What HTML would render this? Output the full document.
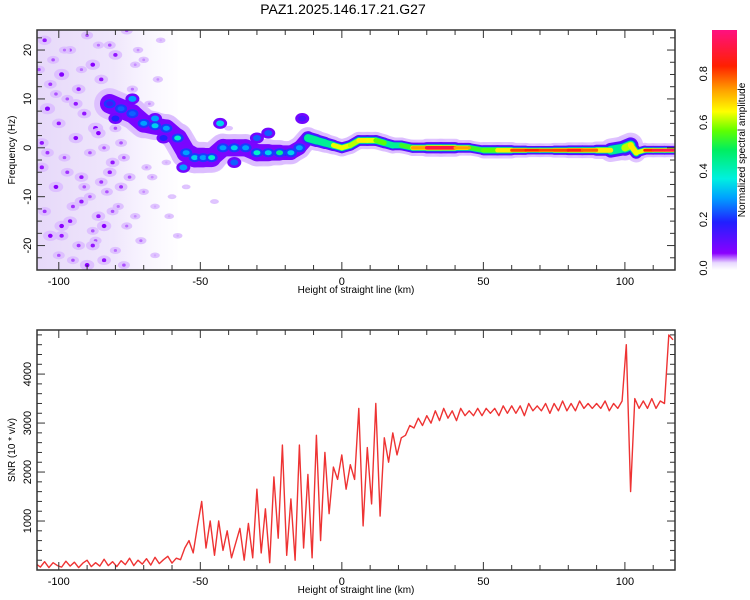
<!DOCTYPE html>
<html><head><meta charset="utf-8"><style>
body{margin:0;background:#fff;}
svg{display:block;font-family:"Liberation Sans",sans-serif;}
</style></head><body>
<svg id="chart" width="750" height="600" viewBox="0 0 750 600">
<defs>
<linearGradient id="cbar" x1="0" y1="1" x2="0" y2="0">
<stop offset="0" stop-color="#ffffff"/>
<stop offset="0.03" stop-color="#e8d8ff"/>
<stop offset="0.07" stop-color="#8a00ff"/>
<stop offset="0.2" stop-color="#2020ff"/>
<stop offset="0.3" stop-color="#00a0ff"/>
<stop offset="0.38" stop-color="#00f0e0"/>
<stop offset="0.5" stop-color="#00ee60"/>
<stop offset="0.58" stop-color="#60ff00"/>
<stop offset="0.66" stop-color="#ffff00"/>
<stop offset="0.75" stop-color="#ffa000"/>
<stop offset="0.85" stop-color="#ff2000"/>
<stop offset="1" stop-color="#ff1080"/>
</linearGradient>
<clipPath id="clipTop"><rect x="37" y="30" width="638" height="240"/></clipPath>
<clipPath id="clipBot"><rect x="37" y="330" width="638" height="240"/></clipPath>
<linearGradient id="noiseBg" x1="0" x2="1" y1="0" y2="0">
<stop offset="0" stop-color="#d6bff5" stop-opacity="0.6"/>
<stop offset="0.55" stop-color="#dcc8f8" stop-opacity="0.45"/>
<stop offset="1" stop-color="#ece2ff" stop-opacity="0.05"/>
</linearGradient>
</defs>
<text x="343" y="14" font-size="14" text-anchor="middle">PAZ1.2025.146.17.21.G27</text>
<g id="topPanel"></g>
<g id="cb"></g>
<g id="botPanel"></g>
</svg>
<script>
// ---- data ----
const xTicks=[-100,-50,0,50,100];
const fTicks=[-20,-10,0,10,20];
const snrTicks=[1000,2000,3000,4000];
const cbTicks=[0.0,0.2,0.4,0.6,0.8];
// spectral ridge: position (km), centre freq (Hz), peak amplitude, bandwidth (Hz)
const ridgeX=[-82,-78,-74,-70,-66,-62,-58,-55,-52,-49,-46,-42,-38,-34,-30,-26,-22,-18,-15,-12,-9,-6,-3,0,3,6,9,12,15,18,21,25,30,35,40,45,50,55,60,65,70,75,80,85,90,95,100,102,104,107,110,114,118];
const ridgeF=[9,8,7,5,4.5,4,2,-1,-2,-2,-2,0,0,0,-1,-1,-1,-1,0,2,1.5,1,0.5,0,0.5,1.5,1.5,1.5,1,0.5,0.5,0,0,0,0,0,-0.5,-0.5,-0.5,-0.5,-0.5,-0.5,-0.5,-0.5,-0.5,-0.5,0,0.5,-1,-0.5,-0.5,-0.5,-0.5];
const ridgeA=[0.15,0.25,0.25,0.3,0.35,0.3,0.4,0.3,0.35,0.3,0.4,0.3,0.35,0.3,0.4,0.35,0.45,0.35,0.3,0.5,0.5,0.45,0.6,0.7,0.6,0.65,0.7,0.6,0.55,0.5,0.5,0.6,0.9,0.95,0.9,0.6,0.5,0.65,0.8,0.85,0.85,0.8,0.85,0.9,0.7,0.7,0.35,0.9,0.5,0.8,0.9,0.95,0.95];
const ridgeW=[4,4,3.8,3.8,3.5,3.5,3.8,4,4,4,3.8,3.5,3.5,3.5,3.5,3.5,3,3,2.8,2.8,2.5,2.5,2.2,2.2,2.2,2.2,2.2,2.2,2.2,2,2,2,2.2,2.4,2.2,1.8,2,2.2,2,1.8,1.7,1.8,2,2,2,2.5,3.5,3,2,1.8,1.8,1.8,1.8];
// secondary blobs near the ridge
const blobX=[-43,-74,-66,-30,-26,-20,-14,-38,-56,-80,-63];
const blobF=[5,10,6,2,3,-1,6,-3,-4,6,2];
const blobA=[0.35,0.3,0.3,0.25,0.25,0.2,0.15,0.25,0.3,0.2,0.2];
// scattered noise blobs
const noiseX=[-105,-102,-99,-96,-93,-90,-88,-85,-82,-80,-104,-100,-97,-94,-91,-87,-84,-81,-78,-75,-106,-101,-98,-95,-92,-89,-86,-83,-79,-76,-103,-100,-96,-93,-90,-87,-84,-80,-73,-70,-105,-99,-95,-92,-88,-85,-82,-77,-74,-68,-65,-62,-70,-66,-63,-72,-58,-55,-45,-40,
-107,-103,-98,-94,-89,-86,-83,-78,-76,-71,-67,-64,-61,-106,-101,-97,-92,-88,-84,-80,-77,-73,-69,-66,-60,-104,-99,-91,-86,-81];
const noiseF=[22,18,15,20,12,23,17,14,21,19,8,5,10,2,7,4,0,-3,1,-6,-4,-8,-2,-12,-6,-10,-14,-9,-12,-16,-18,-22,-15,-20,-24,-19,-23,-21,-14,-9,-13,-16,-23,-11,-17,-7,-5,-2,12,9,14,-3,18,-12,6,20,-18,-8,-11,4,
16,13,20,9,-1,3,11,-8,24,-19,-6,22,-14,1,11,-5,16,-20,-16,4,-24,17,-4,-22,-10,-1,-18,-8,21,-13];
const noiseA=[0.12,0.1,0.14,0.1,0.12,0.1,0.13,0.12,0.1,0.12,0.14,0.12,0.1,0.13,0.12,0.14,0.1,0.12,0.1,0.1,0.12,0.13,0.1,0.11,0.12,0.1,0.12,0.1,0.09,0.09,0.13,0.1,0.12,0.11,0.13,0.1,0.12,0.09,0.08,0.08,0.11,0.13,0.1,0.12,0.1,0.11,0.12,0.1,0.09,0.08,0.08,0.07,0.08,0.07,0.07,0.08,0.07,0.06,0.06,0.06,
0.1,0.11,0.09,0.12,0.1,0.13,0.09,0.11,0.1,0.09,0.08,0.07,0.07,0.12,0.1,0.11,0.09,0.12,0.13,0.1,0.1,0.08,0.08,0.07,0.06,0.11,0.12,0.1,0.09,0.1];
// SNR series, x from -108 step 1.5
const snrX0=-108, snrStep=1.5;
const snrY=[120,60,170,50,150,90,60,180,80,160,50,140,200,70,150,80,220,90,170,70,190,110,240,90,200,120,230,100,260,130,210,280,140,240,210,
450,600,350,900,1400,450,1000,300,1000,400,800,250,550,850,200,950,250,1650,350,1250,150,1900,650,2550,300,1450,200,2550,450,1950,250,2750,600,2400,1150,2100,1850,2350,1650,2150,1850,3300,900,2500,1350,3400,1100,2700,2200,2800,2350,2700,2750,2950,2900,3100,2950,3150,
3000,3250,3050,3300,3100,3250,3050,3300,3150,3250,3150,3300,3150,3300,3200,3300,3150,3350,3200,3350,3200,3350,3150,3400,3250,3350,3250,3400,3200,3400,3250,3450,3250,3400,3250,3450,3300,3400,3300,3400,3300,3450,3250,3400,3300,3450,
4600,1600,3500,3300,3450,3300,3500,3300,3450,3400,4800,4700];
// ---- scales ----
const L=37,R=675,X0=-107.7,X1=117.7;
const sx=v=>L+(v-X0)/(X1-X0)*(R-L);
const TT=30,TB=270,F0=-25,F1=24.1;
const sf=v=>TB-(v-F0)/(F1-F0)*(TB-TT);
const hz=(TB-TT)/(F1-F0);
const BT=330,BB=570,S0=0,S1=4900;
const ss=v=>BB-(v-S0)/(S1-S0)*(BB-BT);
const NS="http://www.w3.org/2000/svg";
function mk(tag,attrs,parent){const e=document.createElementNS(NS,tag);for(const k in attrs)e.setAttribute(k,attrs[k]);parent.appendChild(e);return e;}
const stops=[[0,[255,255,255]],[0.03,[232,216,255]],[0.07,[138,0,255]],[0.2,[32,32,255]],[0.3,[0,160,255]],[0.38,[0,240,224]],[0.5,[0,238,96]],[0.58,[96,255,0]],[0.66,[255,255,0]],[0.75,[255,160,0]],[0.85,[255,32,0]],[1,[255,16,128]]];
function cmap(a){a=Math.max(0,Math.min(1,a));for(let i=1;i<stops.length;i++){if(a<=stops[i][0]){const [p0,c0]=stops[i-1],[p1,c1]=stops[i];const t=(a-p0)/(p1-p0);return 'rgb('+c0.map((c,j)=>Math.round(c+(c1[j]-c)*t)).join(',')+')';}}return 'rgb(255,16,128)';}

// ---- top panel ----
const topG=document.getElementById('topPanel');
const tg=mk('g',{'clip-path':'url(#clipTop)'},topG);
let bg=mk('rect',{x:sx(-108),y:TT,width:sx(-58)-sx(-108),height:TB-TT,fill:'url(#noiseBg)'},tg);


noiseX.forEach((x,i)=>{
  const a=noiseA[i];
  const r=a*40;
  let h=mk('ellipse',{cx:sx(x),cy:sf(noiseF[i]),rx:r+2,ry:r,fill:cmap(0.035),opacity:0.9},tg);
  
  
  let c=mk('ellipse',{cx:sx(x),cy:sf(noiseF[i]),rx:r*0.45,ry:r*0.4,fill:cmap(a*0.55)},tg);
  
  
});
function seg(i,w,col,op){
  let s=mk('line',{x1:sx(ridgeX[i]),y1:sf(ridgeF[i]),x2:sx(ridgeX[i+1]),y2:sf(ridgeF[i+1]),stroke:col,'stroke-width':w,'stroke-linecap':'round',opacity:op},tg);
  
  
}
const segW=i=>(ridgeW[i]+ridgeW[i+1])/2*hz;
const segA=i=>(ridgeA[i]+ridgeA[i+1])/2;
for(let i=0;i<ridgeX.length-1;i++)seg(i,segW(i)*1.6,cmap(0.035),0.9);
for(let i=0;i<ridgeX.length-1;i++)seg(i,segW(i),ridgeX[i]<-12?cmap(0.09):cmap(0.12),1);
blobX.forEach((x,i)=>{
  let b=mk('ellipse',{cx:sx(x),cy:sf(blobF[i]),rx:7,ry:5.5,fill:cmap(0.1)},tg);
  
  
  let c=mk('ellipse',{cx:sx(x),cy:sf(blobF[i]),rx:4,ry:3,fill:cmap(blobA[i])},tg);
  
  
});
// inner layers for continuous part, drawn layer by layer
const inner=[[0.75,0,a=>0.22],[0.6,0.35,a=>Math.min(a,0.45)],[0.45,0.55,a=>Math.min(a,0.68)],[0.32,0.75,a=>a]];
inner.forEach(([wf,th,cf])=>{
  for(let i=0;i<ridgeX.length-1;i++){
    if(ridgeX[i]<-12)continue;
    const a=segA(i);
    if(a<th)continue;
    seg(i,segW(i)*wf,cmap(cf(a)),1);
  }
});
// blobby left part
ridgeX.forEach((x,i)=>{
  if(x>=-12)return;
  let b=mk('ellipse',{cx:sx(x),cy:sf(ridgeF[i]),rx:6,ry:4.5,fill:cmap(0.22)},tg);
  
  
  let c=mk('ellipse',{cx:sx(x),cy:sf(ridgeF[i]),rx:3.5,ry:2.5,fill:cmap(ridgeA[i])},tg);
  
  
});
function axes(g,T,B,yt,sy,ylab){
  mk('rect',{x:L,y:T,width:R-L,height:B-T,fill:'none',stroke:'#333','stroke-width':1.5},g);
  for(let v=-100;v<=110;v+=10){const x=sx(v);const len=v%50===0?8:5;
    mk('line',{x1:x,y1:B,x2:x,y2:B-len,stroke:'#333'},g);mk('line',{x1:x,y1:T,x2:x,y2:T+len,stroke:'#333'},g);}
  xTicks.forEach(v=>{let t=mk('text',{x:sx(v),y:B+15,'font-size':11,'text-anchor':'middle'},g);t.textContent=v;
    });
  yt.forEach(v=>{let t=mk('text',{x:L-9,y:sy(v),'font-size':11,'text-anchor':'middle',transform:`rotate(-90 ${L-9} ${sy(v)})`,'dominant-baseline':'middle'},g);t.textContent=v;
    });
  let xl=mk('text',{x:356,y:B+23,'font-size':10,'text-anchor':'middle'},g);xl.textContent='Height of straight line (km)';
  
  let ylt=mk('text',{x:0,y:0,'font-size':10,'text-anchor':'middle',transform:`translate(15 ${(T+B)/2}) rotate(-90)`},g);ylt.textContent=ylab;
  
}
axes(topG,TT,TB,fTicks,sf,'Frequency (Hz)');
for(let v=-25;v<=24;v+=2.5){const y=sf(v);if(y<TT||y>TB)continue;const len=(Math.abs(v)%10===0)?8:5;
  mk('line',{x1:L,y1:y,x2:L+len,y2:y,stroke:'#333'},topG);mk('line',{x1:R,y1:y,x2:R-len,y2:y,stroke:'#333'},topG);}

// ---- colorbar ----
const cb=document.getElementById('cb');
mk('rect',{x:712,y:30,width:25,height:240,fill:'url(#cbar)'},cb);
const cbs=v=>268-v*(268-30)/0.98;
cbTicks.forEach(v=>{let t=mk('text',{x:704,y:cbs(v),'font-size':11,'text-anchor':'middle','dominant-baseline':'middle',transform:`rotate(-90 704 ${cbs(v)})`},cb);t.textContent=v.toFixed(1);
  });
let cbt=mk('text',{x:0,y:0,'font-size':10,'text-anchor':'middle',transform:'translate(745 150) rotate(-90)'},cb);cbt.textContent='Normalized spectral amplitude';


// ---- bottom panel ----
const botG=document.getElementById('botPanel');
const bg2=mk('g',{'clip-path':'url(#clipBot)'},botG);
const pts=snrY.map((v,i)=>sx(snrX0+i*snrStep).toFixed(1)+','+ss(v).toFixed(1)).join(' ');
let pl=mk('polyline',{points:pts,fill:'none',stroke:'#ee3333','stroke-width':1.4,'stroke-linejoin':'round'},bg2);


axes(botG,BT,BB,snrTicks,ss,'SNR (10 * v/v)');
for(let v=200;v<4900;v+=200){const y=ss(v);const len=v%1000===0?8:5;
  mk('line',{x1:L,y1:y,x2:L+len,y2:y,stroke:'#333'},botG);mk('line',{x1:R,y1:y,x2:R-len,y2:y,stroke:'#333'},botG);}
</script>
</body></html>
